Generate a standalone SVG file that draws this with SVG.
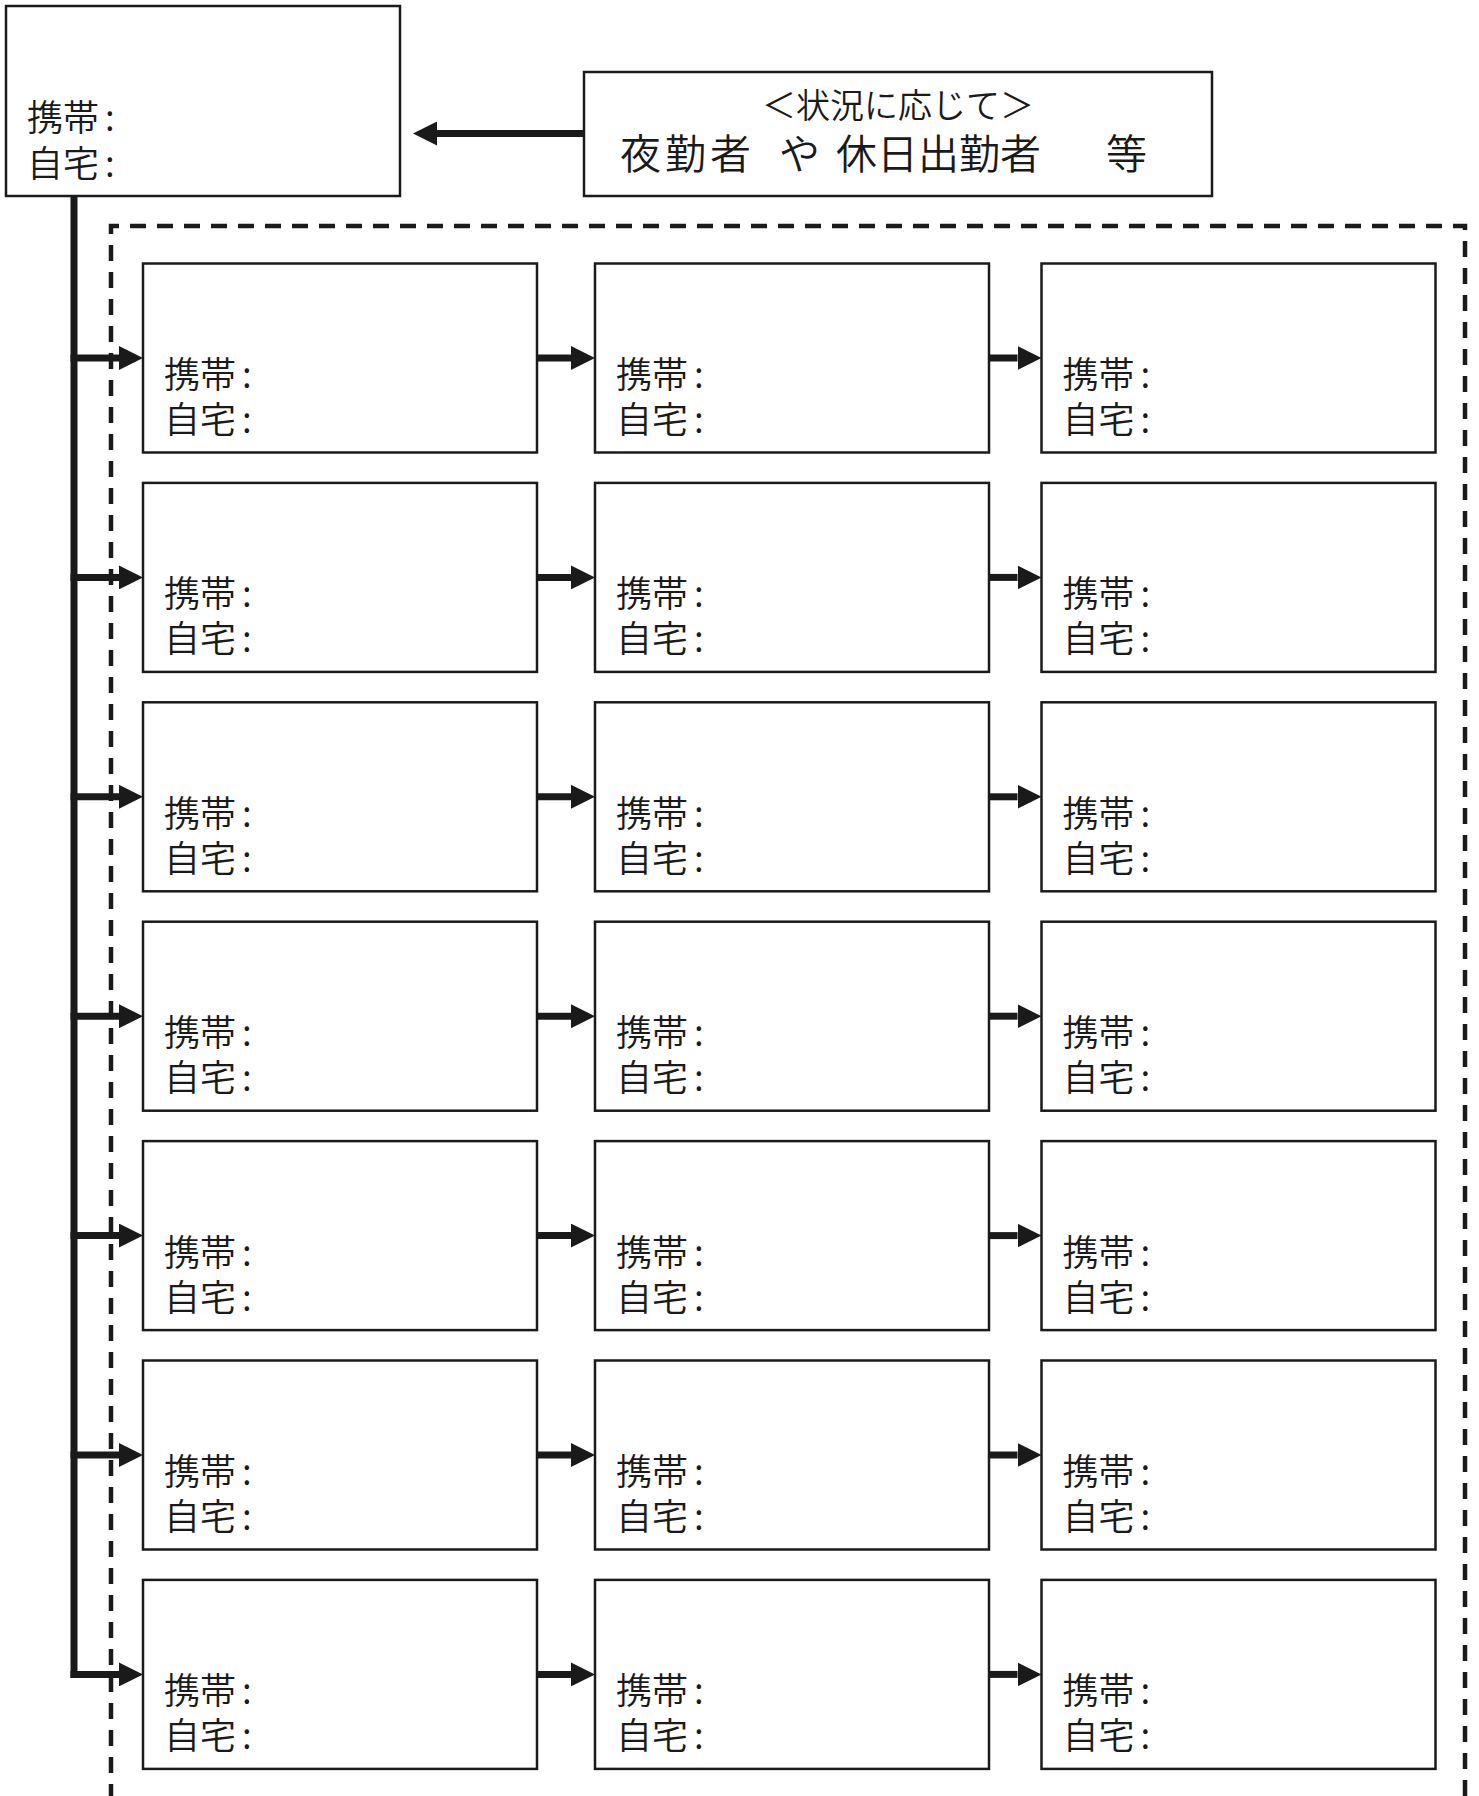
<svg xmlns="http://www.w3.org/2000/svg" width="1479" height="1796" viewBox="0 0 1479 1796">
<style>
.box{fill:#fff;stroke:#1a1a1a;stroke-width:2.5}
.t{font-family:"Noto Sans CJK JP","Noto Sans",sans-serif;font-size:36px;font-weight:350;fill:#1a1a1a}
.sub{font-family:"Noto Sans CJK JP","Noto Sans",sans-serif;font-size:34px;font-weight:350;fill:#1a1a1a}
.main{font-family:"Noto Sans CJK JP","Noto Sans",sans-serif;font-size:41px;font-weight:350;fill:#1a1a1a}
.ln{stroke:#1a1a1a;stroke-width:7;fill:none}
.arr{stroke:#1a1a1a;stroke-width:7;fill:none;marker-end:url(#ah)}
.dash{stroke:#1a1a1a;stroke-width:4.5;fill:none;stroke-dasharray:16 11}
</style>
<defs>
<marker id="ah" markerUnits="userSpaceOnUse" markerWidth="24" markerHeight="24" refX="0" refY="12" orient="auto">
<path d="M0,0 L24,12 L0,24 Z" fill="#1a1a1a"/>
</marker>
<g id="cell">
<rect class="box" x="0" y="0" width="394" height="189"/>
<text class="t" x="21" y="124.5">携帯<tspan dx="6">:</tspan></text>
<text class="t" x="21" y="169.5">自宅<tspan dx="6">:</tspan></text>
</g>
</defs>
<rect width="1479" height="1796" fill="#fff"/>
<g id="group-frame">
<path class="dash" d="M111,1800 V226 H1465 V1800"/>
</g>
<g id="node-top">
<rect class="box" x="6" y="6" width="394" height="190"/>
<text class="t" x="27" y="131">携帯<tspan dx="6">:</tspan></text>
<text class="t" x="27" y="177">自宅<tspan dx="6">:</tspan></text>
</g>
<g id="node-note">
<rect class="box" x="584" y="72" width="628" height="124"/>
<text class="sub" x="898" y="118" text-anchor="middle">＜状況に応じて＞</text>
<text class="main" y="169"><tspan x="620 665 710">夜勤者</tspan><tspan x="779">や</tspan><tspan x="836">休日出勤者</tspan><tspan x="1106">等</tspan></text>
</g>
<g id="nodes">
<use id="node-r1c1" href="#cell" x="143" y="263.5"/>
<use id="node-r1c2" href="#cell" x="595" y="263.5"/>
<use id="node-r1c3" href="#cell" x="1041.5" y="263.5"/>
<use id="node-r2c1" href="#cell" x="143" y="482.9"/>
<use id="node-r2c2" href="#cell" x="595" y="482.9"/>
<use id="node-r2c3" href="#cell" x="1041.5" y="482.9"/>
<use id="node-r3c1" href="#cell" x="143" y="702.3"/>
<use id="node-r3c2" href="#cell" x="595" y="702.3"/>
<use id="node-r3c3" href="#cell" x="1041.5" y="702.3"/>
<use id="node-r4c1" href="#cell" x="143" y="921.7"/>
<use id="node-r4c2" href="#cell" x="595" y="921.7"/>
<use id="node-r4c3" href="#cell" x="1041.5" y="921.7"/>
<use id="node-r5c1" href="#cell" x="143" y="1141.1"/>
<use id="node-r5c2" href="#cell" x="595" y="1141.1"/>
<use id="node-r5c3" href="#cell" x="1041.5" y="1141.1"/>
<use id="node-r6c1" href="#cell" x="143" y="1360.5"/>
<use id="node-r6c2" href="#cell" x="595" y="1360.5"/>
<use id="node-r6c3" href="#cell" x="1041.5" y="1360.5"/>
<use id="node-r7c1" href="#cell" x="143" y="1579.9"/>
<use id="node-r7c2" href="#cell" x="595" y="1579.9"/>
<use id="node-r7c3" href="#cell" x="1041.5" y="1579.9"/>
</g>
<g id="connectors">
<path class="arr" d="M584,133.5 H437"/>
<path class="ln" d="M74,196 V1677.9"/>
<path class="arr" d="M70.5,358 H119"/>
<path class="arr" d="M70.5,577.4 H119"/>
<path class="arr" d="M70.5,796.8 H119"/>
<path class="arr" d="M70.5,1016.2 H119"/>
<path class="arr" d="M70.5,1235.6 H119"/>
<path class="arr" d="M70.5,1455 H119"/>
<path class="arr" d="M70.5,1674.4 H119"/>
<path class="arr" d="M537,358 H571"/>
<path class="arr" d="M989,358 H1017.5"/>
<path class="arr" d="M537,577.4 H571"/>
<path class="arr" d="M989,577.4 H1017.5"/>
<path class="arr" d="M537,796.8 H571"/>
<path class="arr" d="M989,796.8 H1017.5"/>
<path class="arr" d="M537,1016.2 H571"/>
<path class="arr" d="M989,1016.2 H1017.5"/>
<path class="arr" d="M537,1235.6 H571"/>
<path class="arr" d="M989,1235.6 H1017.5"/>
<path class="arr" d="M537,1455 H571"/>
<path class="arr" d="M989,1455 H1017.5"/>
<path class="arr" d="M537,1674.4 H571"/>
<path class="arr" d="M989,1674.4 H1017.5"/>
</g>
</svg>
